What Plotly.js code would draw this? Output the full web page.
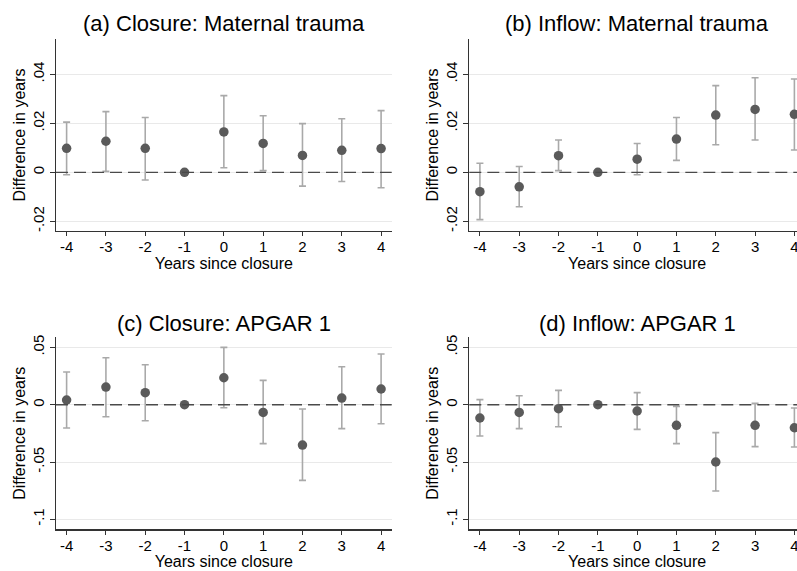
<!DOCTYPE html>
<html><head><meta charset="utf-8">
<script src="https://cdn.plot.ly/plotly-3.0.1.min.js"></script>
<style>html,body{margin:0;padding:0;overflow:hidden;background:#fff}#chart{width:806px;height:571px}</style>
</head><body><div id="chart"></div>
<script>
const years = [-4, -3, -2, -1, 0, 1, 2, 3, 4];
const xTickText = ['-4', '-3', '-2', '-1', '0', '1', '2', '3', '4'];

const panelTitles = ['(a) Closure: Maternal trauma', '(b) Inflow: Maternal trauma', '(c) Closure: APGAR 1', '(d) Inflow: APGAR 1'];

// (a) Closure: Maternal trauma
const aPoint = [0.0098, 0.0127, 0.0098, 0, 0.0165, 0.0118, 0.0069, 0.0090, 0.0097];
const aLow   = [-0.0010, 0.0004, -0.0031, 0, 0.0019, 0.0007, -0.0056, -0.0037, -0.0063];
const aHigh  = [0.0205, 0.0248, 0.0224, 0, 0.0313, 0.0231, 0.0199, 0.0219, 0.0252];

// (b) Inflow: Maternal trauma
const bPoint = [-0.0079, -0.0059, 0.0068, 0, 0.0054, 0.0136, 0.0234, 0.0257, 0.0237];
const bLow   = [-0.0193, -0.0140, 0.0007, 0, -0.0010, 0.0049, 0.0113, 0.0132, 0.0091];
const bHigh  = [0.0037, 0.0024, 0.0132, 0, 0.0118, 0.0224, 0.0354, 0.0386, 0.0381];

// (c) Closure: APGAR 1
const cPoint = [0.0041, 0.0154, 0.0105, 0, 0.0235, -0.0067, -0.0352, 0.0058, 0.0137];
const cLow   = [-0.0203, -0.0105, -0.0140, 0, -0.0026, -0.0340, -0.0660, -0.0209, -0.0166];
const cHigh  = [0.0285, 0.0410, 0.0349, 0, 0.0500, 0.0212, -0.0038, 0.0331, 0.0442];

// (d) Inflow: APGAR 1
const dPoint = [-0.0116, -0.0067, -0.0035, 0, -0.0055, -0.0180, -0.0500, -0.0180, -0.0201];
const dLow   = [-0.0273, -0.0209, -0.0192, 0, -0.0215, -0.0340, -0.0753, -0.0366, -0.0369];
const dHigh  = [0.0044, 0.0078, 0.0125, 0, 0.0105, -0.0015, -0.0244, 0.0012, -0.0029];

const traumaTickVals = [-0.02, 0, 0.02, 0.04];
const traumaTickText = ['-.02', '0', '.02', '.04'];
const apgarTickVals = [-0.1, -0.05, 0, 0.05];
const apgarTickText = ['-.1', '-.05', '0', '.05'];

const W = 806, H = 571;
const FONT = 'Liberation Sans, Arial, sans-serif';
const panels = [
  {pt: aPoint, lo: aLow, hi: aHigh, x0: 56, x1: 391.7, y0: 39.3, y1: 230.7, yr: [-0.0238, 0.0543], tv: traumaTickVals, tt: traumaTickText, tOff: 16},
  {pt: bPoint, lo: bLow, hi: bHigh, x0: 469.3, x1: 805, y0: 39.3, y1: 230.7, yr: [-0.0238, 0.0543], tv: traumaTickVals, tt: traumaTickText, tOff: 16},
  {pt: cPoint, lo: cLow, hi: cHigh, x0: 56, x1: 391.7, y0: 337.3, y1: 529.3, yr: [-0.1087, 0.0588], tv: apgarTickVals, tt: apgarTickText, tOff: 14},
  {pt: dPoint, lo: dLow, hi: dHigh, x0: 469.3, x1: 805, y0: 337.3, y1: 529.3, yr: [-0.1087, 0.0588], tv: apgarTickVals, tt: apgarTickText, tOff: 14}
];

const data = [];
const layout = {
  width: W, height: H,
  margin: {l: 0, r: 0, t: 0, b: 0},
  paper_bgcolor: '#ffffff', plot_bgcolor: '#ffffff',
  showlegend: false,
  font: {family: FONT, color: '#000'},
  annotations: [], shapes: []
};

panels.forEach((p, i) => {
  const n = i + 1;
  const xa = n === 1 ? 'x' : 'x' + n;
  const ya = n === 1 ? 'y' : 'y' + n;
  data.push({
    type: 'scatter', mode: 'markers', x: years, y: p.pt,
    xaxis: xa, yaxis: ya,
    marker: {color: '#5a5a5a', size: 9.5},
    error_y: {
      type: 'data', symmetric: false,
      array: p.hi.map((h, k) => h - p.pt[k]),
      arrayminus: p.lo.map((l, k) => p.pt[k] - l),
      color: '#a9a9a9', thickness: 1.6, width: 3.5
    },
    hoverinfo: 'x+y'
  });
  const xdom = [p.x0 / W, p.x1 / W];
  const ydom = [(H - p.y1) / H, (H - p.y0) / H];
  layout['xaxis' + (n === 1 ? '' : n)] = {
    domain: xdom, anchor: ya, range: [-4.27, 4.27],
    tickmode: 'array', tickvals: years, ticktext: xTickText,
    ticks: 'outside', ticklen: 4, tickcolor: '#333', tickwidth: 1,
    ticklabelstandoff: -2,
    showline: true, linecolor: '#333', linewidth: 1.2, mirror: false,
    showgrid: false, zeroline: false,
    tickfont: {size: 15, family: FONT, color: '#000'},
    title: {text: 'Years since closure', font: {size: 16, family: FONT, color: '#000'}, standoff: 0}
  };
  layout['yaxis' + (n === 1 ? '' : n)] = {
    domain: ydom, anchor: xa, range: p.yr,
    tickmode: 'array', tickvals: p.tv, ticktext: p.tt, tickangle: -90,
    ticks: 'outside', ticklen: 5, tickcolor: '#333', tickwidth: 1,
    showline: true, linecolor: '#333', linewidth: 1.2,
    showgrid: true, gridcolor: '#e9e9e9', gridwidth: 1, zeroline: false,
    tickfont: {size: 15, family: FONT, color: '#000'},
    title: {text: 'Difference in years', font: {size: 16, family: FONT, color: '#000'}, standoff: 0}
  };
  layout.shapes.push({
    type: 'line', xref: xa + ' domain', yref: ya, x0: 0, x1: 1, y0: 0, y1: 0,
    line: {color: '#4a4a4a', width: 1.4, dash: '12px,6px'}, layer: 'above'
  });
  layout.annotations.push({
    text: panelTitles[i], xref: 'paper', yref: 'paper',
    x: (xdom[0] + xdom[1]) / 2, y: ydom[1] + p.tOff / H,
    xanchor: 'center', yanchor: 'middle', showarrow: false,
    font: {size: 22, family: FONT, color: '#000'}
  });
});

Plotly.newPlot('chart', data, layout, {displayModeBar: false, staticPlot: true});
</script></body></html>
